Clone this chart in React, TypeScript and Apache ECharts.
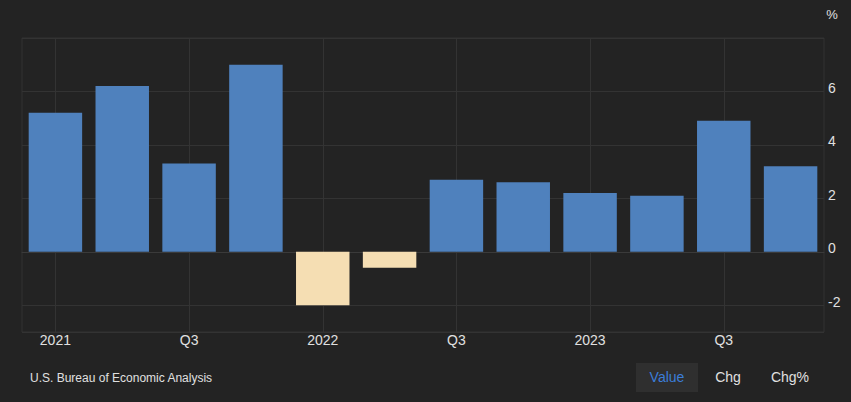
import React, { useEffect, useRef } from "react";
import * as echarts from "echarts";

const categories = ["2021", "Q2", "Q3", "Q4", "2022", "Q2", "Q3", "Q4", "2023", "Q2", "Q3", "Q4"];
const values = [5.2, 6.2, 3.3, 7.0, -2.0, -0.6, 2.7, 2.6, 2.2, 2.1, 4.9, 3.2];
const yMin = -3;
const yMax = 8;
const sourceText = "U.S. Bureau of Economic Analysis";
const unitText = "%";
const buttonLabels = ["Value", "Chg", "Chg%"];

const FONT = "'Liberation Sans', Arial, sans-serif";
const POS = "#4f81bd";
const NEG = "#f5deb3";
const GRID = "#333333";
const TEXT = "#e0e0e0";

export default function App() {
  const ref = useRef<HTMLDivElement>(null);
  useEffect(() => {
    if (!ref.current) return;
    const chart = echarts.init(ref.current, null, { renderer: "svg" });
    chart.setOption({
      animation: false,
      backgroundColor: "#232323",
      textStyle: { fontFamily: FONT },
      grid: {
        left: 22,
        right: 27,
        top: 38,
        bottom: 70,
        show: true,
        borderColor: GRID,
        borderWidth: 1,
        containLabel: false,
      },
      xAxis: {
        type: "category",
        data: categories,
        boundaryGap: true,
        axisLine: { show: true, lineStyle: { color: "#3a3a3a" } },
        axisTick: { show: false },
        axisLabel: {
          interval: 1,
          color: TEXT,
          fontSize: 14,
          fontFamily: FONT,
          margin: 1,
        },
        splitLine: {
          show: true,
          interval: 1,
          alignWithLabel: true,
          lineStyle: { color: GRID, width: 1 },
        },
      },
      yAxis: {
        type: "value",
        position: "right",
        min: yMin,
        max: yMax,
        splitNumber: 5,
        axisLine: { show: false },
        axisTick: { show: false },
        axisLabel: {
          color: TEXT,
          fontSize: 14,
          fontFamily: FONT,
          margin: 4,
          verticalAlign: "bottom",
          lineHeight: 7,
          formatter: (v: number) => (v === yMin || v === yMax ? "" : String(v)),
        },
        splitLine: { show: true, lineStyle: { color: GRID, width: 1 } },
      },
      series: [
        {
          type: "bar",
          barCategoryGap: "20%",
          data: values.map((v) => ({
            value: v,
            itemStyle: { color: v < 0 ? NEG : POS },
          })),
        },
      ],
      graphic: [
        {
          type: "text",
          x: 832,
          y: 14,
          style: {
            text: unitText,
            fill: TEXT,
            font: `13px ${FONT}`,
            textAlign: "center",
            textVerticalAlign: "middle",
          },
        },
        {
          type: "text",
          x: 30,
          y: 378,
          style: {
            text: sourceText,
            fill: TEXT,
            font: `12px ${FONT}`,
            textAlign: "left",
            textVerticalAlign: "middle",
          },
        },
        {
          type: "rect",
          shape: { x: 636, y: 363, width: 62, height: 29 },
          style: { fill: "#2f2f2f" },
        },
        {
          type: "text",
          x: 667,
          y: 377,
          style: {
            text: buttonLabels[0],
            fill: "#3b7dd8",
            font: `14px ${FONT}`,
            textAlign: "center",
            textVerticalAlign: "middle",
          },
        },
        {
          type: "text",
          x: 728,
          y: 377,
          style: {
            text: buttonLabels[1],
            fill: TEXT,
            font: `14px ${FONT}`,
            textAlign: "center",
            textVerticalAlign: "middle",
          },
        },
        {
          type: "text",
          x: 790,
          y: 377,
          style: {
            text: buttonLabels[2],
            fill: TEXT,
            font: `14px ${FONT}`,
            textAlign: "center",
            textVerticalAlign: "middle",
          },
        },
      ],
    });
    return () => chart.dispose();
  }, []);
  return (
    <div
      ref={ref}
      style={{ position: "fixed", left: 0, top: 0, width: 851, height: 402 }}
    />
  );
}
